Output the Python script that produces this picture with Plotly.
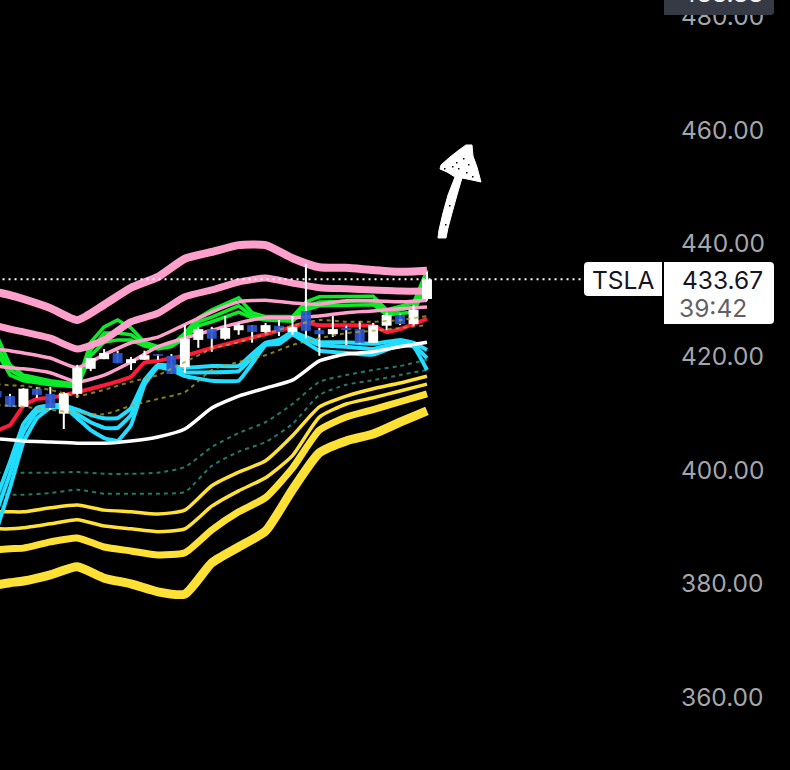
import plotly.graph_objects as go

# ---- Candles ----
CANDLE_X = list(range(-1, 32))
OPEN = [414.0,413.1,411.2,414.4,413.5,410.0,413.5,417.9,419.6,420.7,418.9,419.5,420.5,420.2,418.2,423.0,424.9,423.2,424.7,425.6,424.4,425.5,424.4,428.1,424.7,424.0,425.1,424.9,422.5,425.5,427.4,425.8,430.2]
HIGH = [414.0,413.5,414.5,414.7,414.7,413.8,418.6,419.8,421.4,421.1,420.0,421.1,420.5,420.5,425.6,425.3,425.3,427.2,426.0,425.6,426.0,426.5,427.2,436.4,425.1,427.2,425.5,426.3,426.0,427.8,427.6,429.1,435.0]
LOW = [413.0,411.2,411.2,412.8,410.7,407.3,412.8,417.5,419.6,418.9,417.7,419.5,419.5,417.0,417.2,421.6,420.9,423.0,423.9,422.5,424.2,423.7,423.9,423.3,420.2,423.5,422.1,422.3,422.5,424.7,425.6,425.5,429.9]
CLOSE = [412.9,411.2,414.4,413.3,411.0,413.6,418.1,419.8,420.7,418.9,419.6,420.3,420.2,417.0,423.2,424.9,423.2,425.1,425.6,424.4,425.6,424.4,425.3,424.6,424.0,424.9,424.7,422.5,425.6,427.4,425.8,428.3,433.67]

# ---- Overlay lines sampled every other candle ----
X_LINE = [-1,0,1,3,5,7,9,11,13,15,17,19,21,23,25,27,29,31]
PINK_A = [431.4,430.9,430.2,428.6,426.5,429.2,432.2,434.1,437.3,438.5,439.7,439.7,437.4,435.8,435.7,435.3,435.0,435.2]
PINK_B = [425.5,424.9,424.4,423.3,421.4,423.0,426.2,427.7,430.6,431.8,433.2,433.9,433.0,432.2,432.0,431.8,431.6,431.6]
PINK_C = [421.4,421.1,420.7,419.8,418.1,420.4,422.5,423.5,425.7,427.9,429.7,430.0,429.5,429.3,429.9,429.9,429.7,430.0]
PINK_D = [418.4,418.1,417.9,417.2,415.6,416.8,419.1,421.8,423.3,424.7,426.0,426.9,426.9,427.2,427.8,428.1,428.5,428.8]
OLIVE_A = [415.2,415.0,414.9,414.2,413.1,414.2,415.6,416.8,419.1,421.4,422.6,424.0,425.5,426.5,426.2,426.2,426.5,427.2]
OLIVE_B = [411.5,411.4,411.2,410.7,410.1,409.9,411.4,412.6,413.8,417.7,419.1,420.3,422.1,423.3,424.2,424.6,425.1,425.6]
WHITE = [405.6,405.4,405.2,405.0,404.8,404.8,405.2,405.9,407.3,411.0,413.1,414.5,415.9,419.3,420.5,420.9,421.8,422.6]
TEAL_A = [399.6,399.6,399.6,399.6,399.7,399.4,399.4,399.6,400.6,404.1,406.6,408.5,411.7,415.6,416.8,417.7,418.4,419.5]
TEAL_B = [395.7,395.7,395.7,396.0,396.6,395.9,395.9,395.9,396.2,400.8,403.3,405.0,408.2,413.3,415.1,415.9,416.8,417.7]
YELLOW_A = [392.7,392.7,392.7,393.4,393.9,393.0,392.7,392.3,393.0,397.3,399.7,401.7,406.1,411.2,413.1,414.4,415.4,416.6]
YELLOW_B = [389.7,389.7,389.9,390.6,391.3,390.2,389.7,389.2,389.7,393.7,396.4,398.7,402.6,409.4,411.7,412.8,414.0,415.2]
YELLOW_C = [386.0,386.2,386.3,387.4,388.1,386.5,385.8,385.1,385.5,389.5,392.7,395.2,400.4,407.1,409.4,410.7,412.1,413.5]
YELLOW_D = [379.8,380.2,380.5,381.6,383.0,381.0,380.0,378.6,378.2,383.7,386.5,389.3,396.6,403.1,405.2,406.4,408.5,410.5]

X_RED = [-1,0,1,2,3,5,7,9,10,11,12,13,15,17,19,21,22,23,25,27,28,29,31]
RED = [407.0,408.0,411.4,412.6,412.8,413.8,415.0,416.5,419.0,419.3,419.8,420.2,421.6,422.8,424.0,425.3,426.0,425.6,425.6,425.5,424.4,424.9,426.7]

X_GREEN = [-1,0,1,3,5,6,7,8,9,10,11,12,13,14,15,17,18,19,21,22,23,27,28,30,31]
GREEN_A = [423.9,418.6,416.8,415.8,415.2,422.6,425.3,426.5,425.1,422.6,421.8,422.1,424.2,426.9,428.3,430.4,427.8,427.1,427.1,429.7,430.6,430.7,428.3,429.5,435.3]
GREEN_B = [422.1,417.7,416.3,415.4,415.0,421.2,424.2,424.2,423.9,422.3,421.6,421.9,423.7,426.2,427.0,429.0,427.2,426.7,426.7,428.8,429.7,429.9,427.8,428.8,434.1]
GREEN_C = [420.9,416.8,415.8,415.1,414.7,420.2,422.6,423.0,423.0,421.9,421.4,421.8,423.3,425.5,426.2,427.9,426.9,426.5,426.3,428.3,429.0,429.2,427.4,427.9,432.9]

X_CYAN = [-1,0,1,2,3,4,5,6,7,8,9,10,11,12,13,15,17,18,19,20,21,23,25,27,29,30,31]
CYAN_A = [395.1,401.5,408.2,411.0,411.5,411.5,410.7,409.8,409.2,409.2,411.0,415.9,418.6,418.4,418.1,418.4,418.4,420.5,422.5,423.0,424.4,422.6,422.6,422.3,423.0,422.5,421.2]
CYAN_B = [392.7,399.4,406.8,410.3,411.2,411.4,409.9,408.5,407.5,407.5,409.8,415.6,418.4,418.1,417.3,417.3,417.5,419.8,422.3,422.6,424.2,422.1,421.8,421.4,422.5,422.1,419.8]
CYAN_C = [389.5,396.9,405.0,409.2,411.0,411.2,409.2,407.1,405.7,405.2,408.0,415.1,418.2,417.7,416.6,415.8,415.8,418.8,422.1,422.3,423.9,421.1,420.7,420.4,422.1,421.8,417.7]

TICKS = [360, 380, 400, 420, 440, 460, 480]
LAST_PRICE = 433.67
SYMBOL = "TSLA"
COUNTDOWN = "39:42"
TOP_LABEL = "488.88"
GUIDE_X = [-1, 42.7]

W, H = 790, 770
PLOT_W = 680
FONT = "Inter"
BG = "#000000"
X_RANGE = [-0.743, 49.81]
Y_RANGE = [347.2, 482.9]


def px(x):
    return x / PLOT_W


def py(y):
    return 1 - y / H


def poly(points):
    return "M" + " L".join(f"{px(a):.5f},{py(b):.5f}" for a, b in points) + " Z"


def rounded(x0, y0, x1, y1, rl, rr):
    return (
        f"M{px(x0 + rl)},{py(y0)} L{px(x1 - rr)},{py(y0)} "
        f"Q{px(x1)},{py(y0)} {px(x1)},{py(y0 + rr)} "
        f"L{px(x1)},{py(y1 - rr)} Q{px(x1)},{py(y1)} {px(x1 - rr)},{py(y1)} "
        f"L{px(x0 + rl)},{py(y1)} Q{px(x0)},{py(y1)} {px(x0)},{py(y1 - rl)} "
        f"L{px(x0)},{py(y0 + rl)} Q{px(x0)},{py(y0)} {px(x0 + rl)},{py(y0)} Z"
    )


fig = go.Figure()


def add_line(x, y, color, width, dash=None, opacity=1.0, smooth=0.55, top=False):
    line = dict(color=color, width=width, dash=dash)
    if smooth:
        line.update(shape="spline", smoothing=smooth)
    fig.add_trace(go.Scatter(
        x=x, y=y, mode="lines", opacity=opacity, hoverinfo="skip", line=line,
        xaxis="x2" if top else "x", yaxis="y2" if top else "y",
    ))


for series, w in ((YELLOW_A, 3.5), (YELLOW_B, 3.5), (YELLOW_C, 7), (YELLOW_D, 9)):
    add_line(X_LINE, series, "#ffe135", w)
for series in (TEAL_A, TEAL_B):
    add_line(X_LINE, series, "#237a68", 2, "4px,4px")
for series in (GREEN_A, GREEN_B, GREEN_C):
    add_line(X_GREEN, series, "#0dea28", 3.5, smooth=0)
for series in (CYAN_A, CYAN_B, CYAN_C):
    add_line(X_CYAN, series, "#22ddff", 4, smooth=0.3)
add_line(X_LINE, WHITE, "#ffffff", 3.5)
for series, w in ((PINK_D, 3.5), (PINK_C, 3.5), (PINK_B, 7), (PINK_A, 8)):
    add_line(X_LINE, series, "#ff9fcb", w)
add_line(X_RED, RED, "#ff1a3a", 4, smooth=0.3)

# Wicks, then bodies (white up, blue down), as floating bars on an overlaying
# copy of the axes so that they sit above the lines.
fig.add_trace(go.Bar(
    x=CANDLE_X, y=[h - l for h, l in zip(HIGH, LOW)], base=LOW, width=0.15,
    marker=dict(color="#ffffff", line=dict(width=0)), hoverinfo="skip", xaxis="x2", yaxis="y2",
))
fig.add_trace(go.Bar(
    x=CANDLE_X, y=[abs(c - o) for o, c in zip(OPEN, CLOSE)], base=[min(o, c) for o, c in zip(OPEN, CLOSE)],
    width=0.74, hoverinfo="skip", xaxis="x2", yaxis="y2",
    marker=dict(color=["#ffffff" if c >= o else "rgba(42,86,205,0.92)" for o, c in zip(OPEN, CLOSE)],
                line=dict(width=0)),
))
for series in (OLIVE_A, OLIVE_B):
    add_line(X_LINE, series, "#b5a62e", 2, "4px,4px", 0.75, top=True)
add_line(GUIDE_X, [LAST_PRICE, LAST_PRICE], "#ffffff", 2, "2px,4px", smooth=0)

ARROW = [(466,145),(472,145),(473,156),(477,167),(481,182),(472,180),(462,178),
         (457,195),(452,213),(448,228),(446,238),(438,238),(439,230),(443,213),(448,195),(455,177),
         (447,172),(440,169),(441,165),(450,157),(459,150)]
SPECKS = [(463,158),(456,162),(466,172),(444,168),(472,176),(452,166),(468,164),(458,168),(449,205),(445,224)]

shapes = [dict(type="path", xref="paper", yref="paper", path=poly(ARROW),
               fillcolor="#ffffff", line=dict(color="#ffffff", width=1), layer="above")]
for a, b in SPECKS:
    shapes.append(dict(type="rect", xref="paper", yref="paper",
                       x0=px(a), x1=px(a + 1.5), y0=py(b), y1=py(b + 1.5),
                       fillcolor="#000000", line=dict(width=0), layer="above"))
shapes += [
    dict(type="path", xref="paper", yref="paper", path=rounded(584, 262, 662, 296, 4, 0),
         fillcolor="#ffffff", line=dict(width=0), layer="above"),
    dict(type="path", xref="paper", yref="paper", path=rounded(664, 262, 774, 324, 0, 4),
         fillcolor="#ffffff", line=dict(width=0), layer="above"),
    dict(type="path", xref="paper", yref="paper", path=rounded(664, -6, 774, 15, 0, 3),
         fillcolor="#363a45", line=dict(width=0), layer="above"),
]


def label(text, x, y, color, size):
    return dict(text=text, xref="paper", yref="paper", x=px(x), y=py(y), xanchor="right",
                yanchor="middle", showarrow=False, font=dict(family=FONT, size=size, color=color))


annotations = [
    label(SYMBOL, 656, 280, "#131722", 24.5),
    label(f"{LAST_PRICE:.2f}", 765, 280, "#131722", 24.5),
    label(COUNTDOWN, 749, 308, "#5f6167", 24.5),
    label(TOP_LABEL, 765, -7, "#f0f0f2", 24.5),
]

fig.update_layout(
    width=W, height=H, autosize=False,
    margin=dict(l=0, r=W - PLOT_W, t=0, b=0, pad=0),
    paper_bgcolor=BG, plot_bgcolor=BG, showlegend=False, barmode="overlay",
    shapes=shapes, annotations=annotations,
    xaxis=dict(range=X_RANGE, visible=False, showgrid=False),
    xaxis2=dict(range=X_RANGE, visible=False, showgrid=False, overlaying="x"),
    yaxis=dict(range=Y_RANGE, side="right", tickvals=TICKS, ticktext=[f"{t:.2f}" for t in TICKS],
               showgrid=False, zeroline=False, showline=False, ticks="", ticklen=0,
               tickfont=dict(family=FONT, size=24.5, color="#a4a6ac")),
    yaxis2=dict(range=Y_RANGE, visible=False, showgrid=False, zeroline=False, overlaying="y", side="right"),
)

fig.write_html("out.html", config=dict(displayModeBar=False),
               post_script="document.body.style.margin='0';document.body.style.background='#000';")
